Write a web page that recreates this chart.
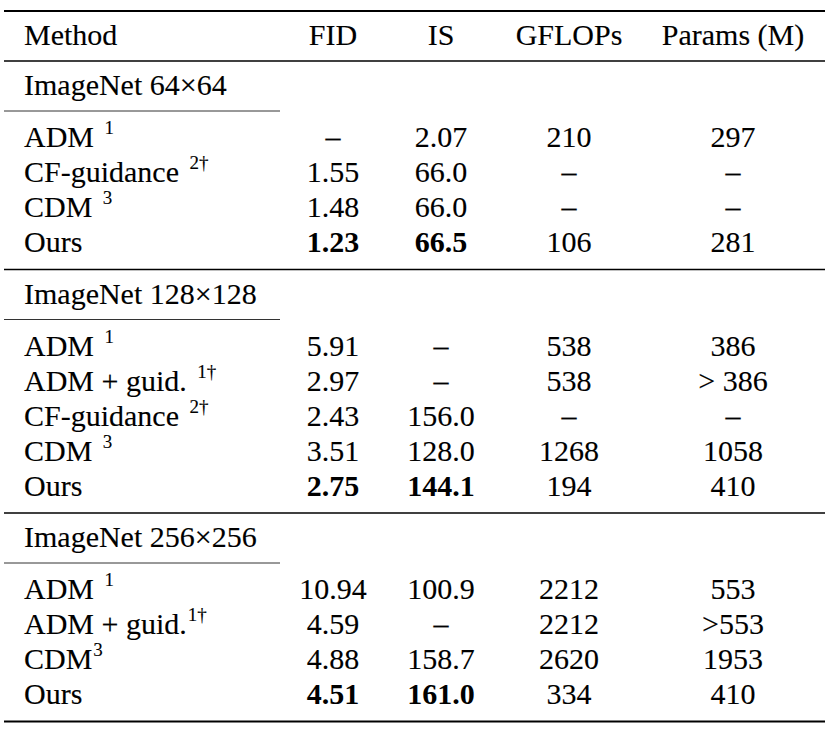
<!DOCTYPE html>
<html>
<head>
<meta charset="utf-8">
<script src="https://cdn.jsdelivr.net/npm/d3@7"></script>
<style>
  body { margin: 0; background: #fff; }
  svg text.normal { stroke: #000; stroke-width: 0.12px; }
</style>
</head>
<body>
<div id="table"></div>
<script>
// Table content
const columns = ['Method', 'FID', 'IS', 'GFLOPs', 'Params (M)'];
const groups = ['ImageNet 64×64', 'ImageNet 128×128', 'ImageNet 256×256'];

// method names, superscript marks and values for each block
const methods64 = ['ADM ', 'CF-guidance ', 'CDM ', 'Ours'];
const marks64 = ['1', '2†', '3', ''];
const fid64 = ['–', '1.55', '1.48', '1.23'];
const is64 = ['2.07', '66.0', '66.0', '66.5'];
const flops64 = ['210', '–', '–', '106'];
const params64 = ['297', '–', '–', '281'];

const methods128 = ['ADM ', 'ADM + guid. ', 'CF-guidance ', 'CDM ', 'Ours'];
const marks128 = ['1', '1†', '2†', '3', ''];
const fid128 = ['5.91', '2.97', '2.43', '3.51', '2.75'];
const is128 = ['–', '–', '156.0', '128.0', '144.1'];
const flops128 = ['538', '538', '–', '1268', '194'];
const params128 = ['386', '> 386', '–', '1058', '410'];

const methods256 = ['ADM ', 'ADM + guid.', 'CDM', 'Ours'];
const marks256 = ['1', '1†', '3', ''];
const fid256 = ['10.94', '4.59', '4.88', '4.51'];
const is256 = ['100.9', '–', '158.7', '161.0'];
const flops256 = ['2212', '2212', '2620', '334'];
const params256 = ['553', '>553', '1953', '410'];

// the row whose FID and IS are set in bold
const bestMethod = 'Ours';
const boldColumns = ['FID', 'IS'];

const blocks = [
  { methods: methods64, marks: marks64, values: [fid64, is64, flops64, params64] },
  { methods: methods128, marks: marks128, values: [fid128, is128, flops128, params128] },
  { methods: methods256, marks: marks256, values: [fid256, is256, flops256, params256] }
];

const width = 829;
const height = 730;
const fontSize = 30;
const supSize = 19;

const svg = d3
  .select('#table')
  .append('svg')
  .attr('width', width)
  .attr('height', height)
  .attr('font-family', 'Liberation Serif')
  .attr('fill', '#000');

const left = 4;
const right = 825;
const methodX = 24;

// column centres
const x = d3
  .scaleOrdinal()
  .domain(columns.slice(1))
  .range([333, 441, 569, 733]);

// vertical layout
const topRule = 11;
const headerBase = topRule + 34;
const headerRule = headerBase + 16;
const rowStep = 35;

function rule(y, x1, x2, w, color) {
  svg
    .append('line')
    .attr('x1', x1)
    .attr('x2', x2)
    .attr('y1', y)
    .attr('y2', y)
    .attr('stroke', color || '#000')
    .attr('stroke-width', w);
}

rule(topRule, left, right, 2);

// header
svg
  .append('g')
  .selectAll('text')
  .data(columns)
  .enter()
  .append('text')
  .attr('class', 'normal')
  .attr('x', (d, i) => (i === 0 ? methodX : x(d)))
  .attr('y', headerBase)
  .attr('text-anchor', (d, i) => (i === 0 ? 'start' : 'middle'))
  .attr('font-size', fontSize)
  .text((d) => d);

rule(headerRule, left, right, 1.3);

let blockTop = headerRule;
blocks.forEach((block, bi) => {
  const labelBase = blockTop + 34;
  const subRule = labelBase + 16;
  const firstRow = subRule + 36;

  svg
    .append('text')
    .attr('class', 'normal')
    .attr('x', methodX)
    .attr('y', labelBase)
    .attr('font-size', fontSize)
    .text(groups[bi]);

  rule(subRule, left, 280, 1, '#333');

  const y = (i) => firstRow + i * rowStep;

  const g = svg.append('g');

  // method names with superscripts
  const names = g
    .selectAll('text.method')
    .data(block.methods)
    .enter()
    .append('text')
    .attr('class', 'method normal')
    .attr('x', methodX)
    .attr('y', (d, i) => y(i))
    .attr('font-size', fontSize);
  names.append('tspan').text((d) => d);
  names
    .append('tspan')
    .attr('font-size', supSize)
    .attr('dx', (d) => (d.endsWith(' ') ? 3 : 1))
    .attr('dy', -13)
    .text((d, i) => block.marks[i]);

  // value cells
  columns.slice(1).forEach((col, ci) => {
    const isBold = (i) =>
      block.methods[i].trim() === bestMethod && boldColumns.includes(col);
    g.selectAll('text.c' + ci)
      .data(block.values[ci])
      .enter()
      .append('text')
      .attr('class', (d, i) => 'c' + ci + (isBold(i) ? '' : ' normal'))
      .attr('x', x(col))
      .attr('y', (d, i) => y(i))
      .attr('text-anchor', 'middle')
      .attr('font-size', fontSize)
      .attr('font-weight', (d, i) => (isBold(i) ? 'bold' : 'normal'))
      .text((d) => d);
  });

  const lastRow = y(block.methods.length - 1);
  blockTop = lastRow + 17.5;
  rule(blockTop, left, right, bi === blocks.length - 1 ? 2 : 1.3);
});
</script>
</body>
</html>
